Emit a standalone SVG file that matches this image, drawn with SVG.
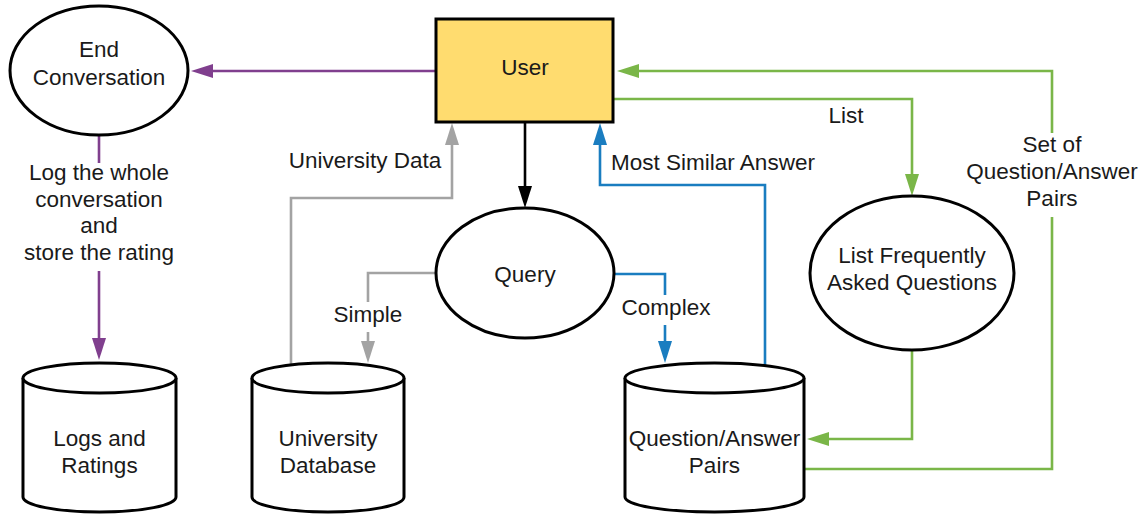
<svg xmlns="http://www.w3.org/2000/svg" width="1146" height="515" viewBox="0 0 1146 515">
  <style>
    .node { fill: #ffffff; stroke: #000000; stroke-width: 3; }
    .user { fill: #ffdc6f; stroke: #000000; stroke-width: 3; }
    .lbl { font-family: "Liberation Sans", Arial, sans-serif; font-size: 22.5px; fill: #1a1a1a; text-anchor: middle; }
    .edge { fill: none; stroke-width: 2.6; stroke-linejoin: miter; }
    .purple { stroke: #803f8e; }
    .green { stroke: #7ab648; }
    .blue { stroke: #1a7dc0; }
    .grey { stroke: #a3a3a3; }
    .black { stroke: #000000; }
    .bg { fill: #ffffff; }
  </style>
  <defs>
    <marker id="ah-purple" markerUnits="userSpaceOnUse" markerWidth="22" markerHeight="14" refX="2" refY="7" orient="auto">
      <path d="M0,0 L22,7 L0,14 Z" fill="#803f8e"/>
    </marker>
    <marker id="ah-green" markerUnits="userSpaceOnUse" markerWidth="22" markerHeight="14" refX="2" refY="7" orient="auto">
      <path d="M0,0 L22,7 L0,14 Z" fill="#7ab648"/>
    </marker>
    <marker id="ah-blue" markerUnits="userSpaceOnUse" markerWidth="22" markerHeight="14" refX="2" refY="7" orient="auto">
      <path d="M0,0 L22,7 L0,14 Z" fill="#1a7dc0"/>
    </marker>
    <marker id="ah-grey" markerUnits="userSpaceOnUse" markerWidth="22" markerHeight="14" refX="2" refY="7" orient="auto">
      <path d="M0,0 L22,7 L0,14 Z" fill="#a3a3a3"/>
    </marker>
    <marker id="ah-black" markerUnits="userSpaceOnUse" markerWidth="22" markerHeight="14" refX="2" refY="7" orient="auto">
      <path d="M0,0 L22,7 L0,14 Z" fill="#000000"/>
    </marker>
  </defs>

  <rect width="1146" height="515" fill="#ffffff"/>

  <!-- connectors -->
  <g id="connectors">
    <!-- User -> End Conversation -->
    <path class="edge purple" d="M436,71 H211" marker-end="url(#ah-purple)"/>
    <!-- End Conversation -> Logs and Ratings -->
    <path class="edge purple" d="M99,135 V340" marker-end="url(#ah-purple)"/>
    <!-- User -> Query -->
    <path class="edge black" d="M525,122 V188" marker-end="url(#ah-black)"/>
    <!-- University Database -> User -->
    <path class="edge grey" d="M291,365 V198 H452 V143" marker-end="url(#ah-grey)"/>
    <!-- Query -> University Database -->
    <path class="edge grey" d="M436,273 H368 V343" marker-end="url(#ah-grey)"/>
    <!-- Query -> Question/Answer Pairs -->
    <path class="edge blue" d="M614,274 H665 V343" marker-end="url(#ah-blue)"/>
    <!-- Question/Answer Pairs -> User -->
    <path class="edge blue" d="M765,366 V185 H600 V143" marker-end="url(#ah-blue)"/>
    <!-- User -> FAQ list -->
    <path class="edge green" d="M613,99 H912 V176" marker-end="url(#ah-green)"/>
    <!-- FAQ list -> Question/Answer Pairs -->
    <path class="edge green" d="M912,350 V439 H827" marker-end="url(#ah-green)"/>
    <!-- Question/Answer Pairs -> User -->
    <path class="edge green" d="M804,469 H1052 V71 H637" marker-end="url(#ah-green)"/>

    <!-- connector labels -->
    <rect class="bg" x="20" y="163" width="158" height="108"/>
    <text class="lbl" x="99" y="180">Log the whole</text>
    <text class="lbl" x="99" y="207">conversation</text>
    <text class="lbl" x="99" y="233">and</text>
    <text class="lbl" x="99" y="260">store the rating</text>

    <text class="lbl" x="365" y="168">University Data</text>

    <rect class="bg" x="333" y="302" width="70" height="30"/>
    <text class="lbl" x="368" y="322">Simple</text>

    <rect class="bg" x="622" y="295" width="88" height="30"/>
    <text class="lbl" x="666" y="315">Complex</text>

    <text class="lbl" x="713" y="170">Most Similar Answer</text>

    <text class="lbl" x="846" y="123">List</text>

    <rect class="bg" x="1018" y="133" width="68" height="84"/>
    <text class="lbl" x="1052" y="152">Set of</text>
    <text class="lbl" x="1052" y="179">Question/Answer</text>
    <text class="lbl" x="1052" y="206">Pairs</text>
  </g>

  <!-- nodes -->
  <g id="end-conversation">
    <ellipse class="node" cx="99" cy="70.5" rx="89" ry="64.5"/>
    <text class="lbl" x="99" y="57">End</text>
    <text class="lbl" x="99" y="85">Conversation</text>
  </g>

  <g id="user">
    <rect class="user" x="436" y="19" width="177" height="103"/>
    <text class="lbl" x="525" y="75">User</text>
  </g>

  <g id="query">
    <ellipse class="node" cx="525" cy="273" rx="89" ry="65"/>
    <text class="lbl" x="525" y="282">Query</text>
  </g>

  <g id="faq">
    <ellipse class="node" cx="912" cy="273" rx="102" ry="77"/>
    <text class="lbl" x="912" y="263">List Frequently</text>
    <text class="lbl" x="912" y="290">Asked Questions</text>
  </g>

  <g id="logs-and-ratings">
    <path class="node" d="M23,378 A76.5,15 0 0 1 176,378 V497 A76.5,15 0 0 1 23,497 Z"/>
    <path class="node" d="M23,378 A76.5,15 0 0 0 176,378" fill="none"/>
    <text class="lbl" x="99.5" y="446">Logs and</text>
    <text class="lbl" x="99.5" y="473">Ratings</text>
  </g>

  <g id="university-database">
    <path class="node" d="M252,378 A76,15 0 0 1 404,378 V497 A76,15 0 0 1 252,497 Z"/>
    <path class="node" d="M252,378 A76,15 0 0 0 404,378" fill="none"/>
    <text class="lbl" x="328" y="446">University</text>
    <text class="lbl" x="328" y="473">Database</text>
  </g>

  <g id="qa-pairs">
    <path class="node" d="M625,378 A89.5,15 0 0 1 804,378 V497 A89.5,15 0 0 1 625,497 Z"/>
    <path class="node" d="M625,378 A89.5,15 0 0 0 804,378" fill="none"/>
    <text class="lbl" x="714.5" y="446">Question/Answer</text>
    <text class="lbl" x="714.5" y="473">Pairs</text>
  </g>
</svg>
